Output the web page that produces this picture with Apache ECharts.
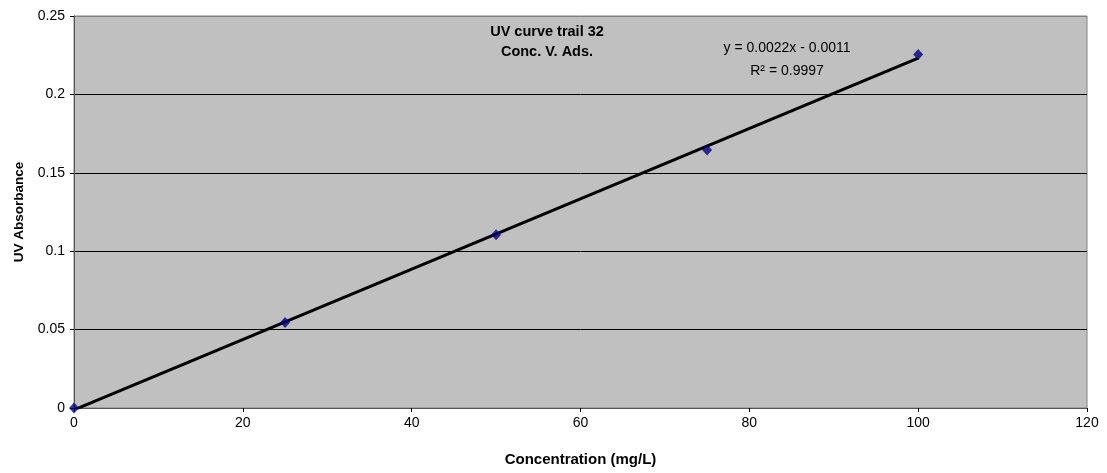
<!DOCTYPE html>
<html>
<head>
<meta charset="utf-8">
<script src="https://cdn.jsdelivr.net/npm/echarts@6/dist/echarts.min.js"></script>
<style>
  html, body { margin: 0; padding: 0; background: #fff; }
  #chart { width: 1107px; height: 473px; }
</style>
</head>
<body>
<div id="chart"></div>
<script>
// Calibration standards: concentration vs. UV absorbance
const concentrations = [0, 25, 50, 75, 100];
const absorbances = [0, 0.0545, 0.1105, 0.1645, 0.2255];

const titleLines = ['UV curve trail 32', 'Conc. V. Ads.'];
const equationText = 'y = 0.0022x - 0.0011';
const rSquaredText = 'R² = 0.9997';
const xAxisTitle = 'Concentration (mg/L)';
const yAxisTitle = 'UV Absorbance';

// Least-squares linear fit through the standards
function linearFit(xs, ys) {
  const n = xs.length;
  const mx = xs.reduce((a, b) => a + b, 0) / n;
  const my = ys.reduce((a, b) => a + b, 0) / n;
  let sxy = 0, sxx = 0;
  for (let i = 0; i < n; i++) {
    sxy += (xs[i] - mx) * (ys[i] - my);
    sxx += (xs[i] - mx) * (xs[i] - mx);
  }
  const slope = sxy / sxx;
  return { slope, intercept: my - slope * mx };
}
const fit = linearFit(concentrations, absorbances);
const xStart = concentrations[0];
const xEnd = concentrations[concentrations.length - 1];
const trendData = [
  [xStart, fit.slope * xStart + fit.intercept],
  [xEnd, fit.slope * xEnd + fit.intercept]
];

const font = '"Liberation Sans", Arial, sans-serif';
const chart = echarts.init(document.getElementById('chart'), null, { renderer: 'canvas' });

chart.setOption({
  animation: false,
  textStyle: { fontFamily: font },
  grid: {
    left: 74, right: 20, top: 16, bottom: 65,
    show: true, backgroundColor: '#c0c0c0', borderColor: '#808080', borderWidth: 1
  },
  xAxis: {
    type: 'value', min: 0, max: 120, interval: 20,
    name: xAxisTitle, nameLocation: 'middle', nameGap: 44,
    nameTextStyle: { fontFamily: font, fontSize: 15, fontWeight: 'bold', color: '#000' },
    axisLine: { show: true, onZero: false, lineStyle: { color: '#555', width: 1 } },
    axisTick: { show: true, inside: false, length: 4, lineStyle: { color: '#000' } },
    axisLabel: { fontFamily: font, fontSize: 14, color: '#000', margin: 8 },
    splitLine: { show: false }
  },
  yAxis: {
    type: 'value', min: 0, max: 0.25, interval: 0.05,
    name: yAxisTitle, nameLocation: 'middle', nameGap: 48,
    nameTextStyle: { fontFamily: font, fontSize: 13.5, fontWeight: 'bold', color: '#000' },
    axisLine: { show: true, onZero: false, lineStyle: { color: '#555', width: 1 } },
    axisTick: { show: true, inside: false, length: 4, lineStyle: { color: '#000' } },
    axisLabel: { fontFamily: font, fontSize: 14, color: '#000', margin: 9 },
    splitLine: {
      show: true,
      lineStyle: { color: ['#555', '#000', '#000', '#000', '#000', '#808080'], width: 1 }
    }
  },
  graphic: [
    {
      type: 'text', z: 10,
      position: [547, 22],
      style: {
        text: titleLines.join('\n'),
        align: 'center', fill: '#000', lineHeight: 20,
        font: 'bold 14.5px "Liberation Sans", Arial, sans-serif'
      }
    },
    {
      type: 'text', z: 10,
      position: [787, 41],
      style: {
        text: equationText, align: 'center', fill: '#000',
        font: '14px "Liberation Sans", Arial, sans-serif'
      }
    },
    {
      type: 'text', z: 10,
      position: [787, 64],
      style: {
        text: rSquaredText, align: 'center', fill: '#000',
        font: '14px "Liberation Sans", Arial, sans-serif'
      }
    }
  ],
  series: [
    {
      name: 'Trend', type: 'line', data: trendData,
      showSymbol: false, symbol: 'none',
      lineStyle: { color: '#000', width: 3 }, z: 3
    },
    {
      name: 'Absorbance', type: 'scatter',
      data: concentrations.map((c, i) => [c, absorbances[i]]),
      symbol: 'diamond', symbolSize: [10, 11],
      itemStyle: { color: '#000080' }, z: 4
    }
  ]
});
</script>
</body>
</html>
